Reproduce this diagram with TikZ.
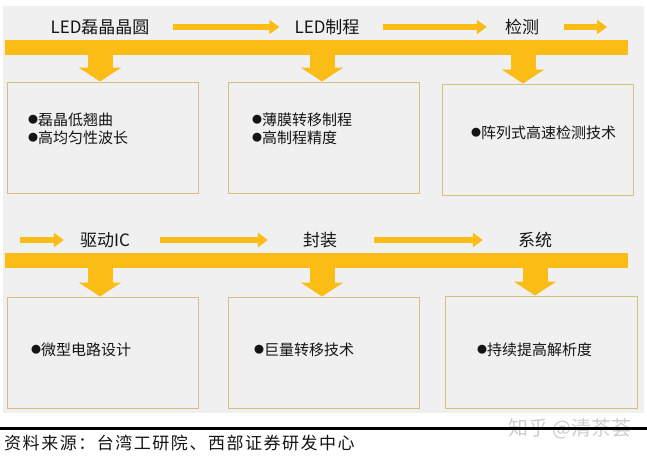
\documentclass[tikz,border=0pt]{standalone}
\usepackage{fontspec}
\setmainfont{Noto Sans CJK SC}
\newfontfamily\srcfont{Noto Sans CJK SC}[LetterSpace=9]
\usepackage{tikz}
\usetikzlibrary{arrows.meta, positioning, calc}
\definecolor{barYellow}{RGB}{250, 188, 21}
\definecolor{panelGray}{RGB}{240, 240, 240}
\definecolor{boxBorder}{RGB}{214, 190, 128}
\definecolor{textDark}{RGB}{20, 20, 20}
\definecolor{markGray}{RGB}{205, 205, 205}
\newcommand{\dotmark}{\raisebox{2pt}{\fontsize{10}{10}\selectfont ●}}

\begin{document}
\begin{tikzpicture}[
    x=1pt, y=-1pt,
    heading/.style={inner sep=0pt, font=\fontsize{17}{20}\selectfont, text=textDark},
    stagebox/.style={rectangle, draw=boxBorder, line width=1pt, fill=panelGray, minimum width=191pt, minimum height=111pt, inner sep=0pt},
    point/.style={anchor=west, inner sep=0pt, align=left, font=\fontsize{15}{18}\selectfont, text=textDark},
    band/.style={rectangle, fill=barYellow, minimum width=623pt, minimum height=15pt, inner sep=0pt},
    flow/.style={draw=barYellow, line width=6pt, -{Triangle[length=10pt, width=14pt]}},
    drop/.style={draw=barYellow, line width=25pt, -{Triangle[length=14pt, width=42pt]}}
]
    \useasboundingbox (0,0) rectangle (647,458);
    \fill[panelGray] (3,6) rectangle (644,413);

    % Nodes
    \node[heading] (led1) at (100,27) {LED磊晶晶圆};
    \node[heading] (led2) at (327,27) {LED制程};
    \node[heading] (test) at (522,27) {检测};
    \coordinate (end1) at (607,27);
    \node[band] (bar1) at (316.5,47.5) {};

    \node[stagebox] (box1) at (102.5,137.5) {};
    \node[stagebox] (box2) at (323.5,137.5) {};
    \node[stagebox] (box3) at (537.5,139.5) {};
    \node[point] (txt1) at (28,129) {\dotmark 磊晶低翘曲\\\dotmark 高均匀性波长};
    \node[point] (txt2) at (252,129) {\dotmark 薄膜转移制程\\\dotmark 高制程精度};
    \node[point] (txt3) at (471,133) {\dotmark 阵列式高速检测技术};

    \coordinate (start2) at (20,240);
    \node[heading] (drive) at (105,240) {驱动IC};
    \node[heading] (pack) at (320,240) {封装};
    \node[heading] (sys) at (535,240) {系统};
    \node[band] (bar2) at (316.5,260.5) {};

    \node[stagebox] (box4) at (102.5,352.5) {};
    \node[stagebox] (box5) at (323.5,352.5) {};
    \node[stagebox, minimum width=192pt, minimum height=112pt] (box6) at (541,352) {};
    \node[point] (txt4) at (31,350) {\dotmark 微型电路设计};
    \node[point] (txt5) at (254,350) {\dotmark 巨量转移技术};
    \node[point] (txt6) at (477,350) {\dotmark 持续提高解析度};

    % Footer
    \node[font=\fontsize{20}{22}\selectfont, text=markGray, inner sep=0pt] (mark) at (570,429) {知乎 @清茶荟};
    \draw[line width=3pt, black] (0,428) -- (647,428);
    \node[anchor=west, inner sep=0pt, font=\srcfont\fontsize{17}{20}\selectfont, text=textDark] (src) at (4,443) {资料来源：台湾工研院、西部证券研发中心};

    % Links
    \draw[flow] ([xshift=23pt]led1.east) -- ([xshift=-15pt]led2.west);
    \draw[flow] ([xshift=23pt]led2.east) -- ([xshift=-18pt]test.west);
    \draw[flow] ([xshift=25pt]test.east) -- (end1);
    \draw[flow] (start2) -- ([xshift=-16pt]drive.west);
    \draw[flow] ([xshift=30pt]drive.east) -- ([xshift=-35pt]pack.west);
    \draw[flow] ([xshift=37pt]pack.east) -- ([xshift=-35pt]sys.west);

    \draw[drop] ([xshift=-2.5pt]box1.north |- bar1.south) -- ([xshift=-2.5pt]box1.north);
    \draw[drop] ([xshift=-1.5pt]box2.north |- bar1.south) -- ([xshift=-1.5pt]box2.north);
    \draw[drop] ([xshift=-14.5pt]box3.north |- bar1.south) -- ([xshift=-14.5pt]box3.north);
    \draw[drop] ([xshift=-2.5pt]box4.north |- bar2.south) -- ([xshift=-2.5pt]box4.north);
    \draw[drop] ([xshift=-1.5pt]box5.north |- bar2.south) -- ([xshift=-1.5pt]box5.north);
    \draw[drop] ([xshift=-6pt]box6.north |- bar2.south) -- ([xshift=-6pt]box6.north);
\end{tikzpicture}
\end{document}
